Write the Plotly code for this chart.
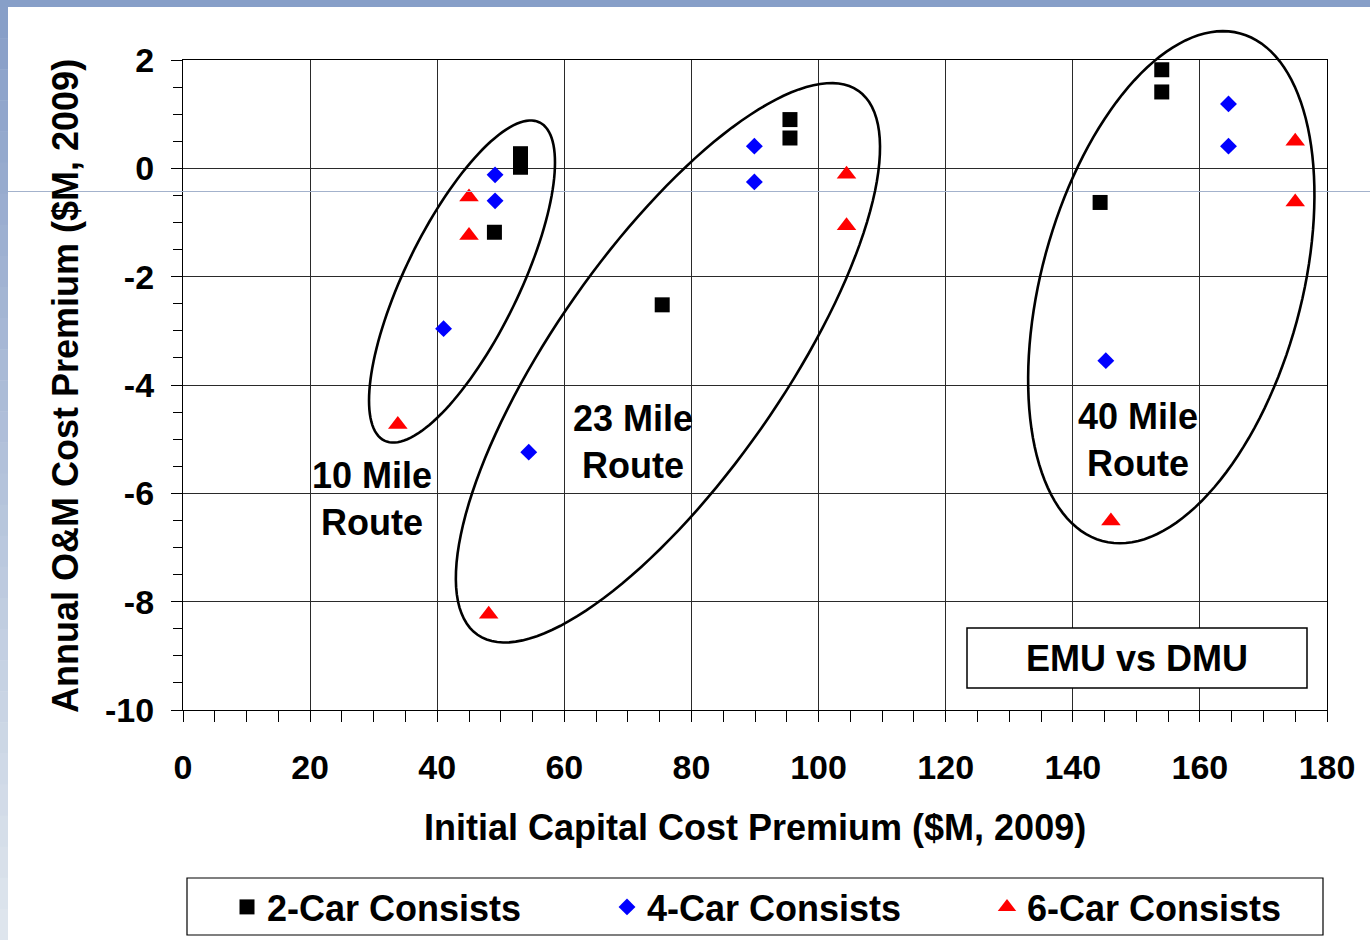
import math
import plotly.graph_objects as go

# ---------------- data ----------------
car2_x = [49.0, 53.1, 53.1, 75.4, 95.5, 95.5, 144.3, 154.0, 154.0]
car2_y = [-1.18, 0.27, 0.02, -2.52, 0.90, 0.56, -0.63, 1.82, 1.41]

car4_x = [49.1, 49.1, 41.0, 54.4, 89.9, 89.9, 145.2, 164.5, 164.5]
car4_y = [-0.12, -0.60, -2.96, -5.24, 0.41, -0.25, -3.55, 1.19, 0.41]

car6_x = [45.0, 45.0, 33.8, 48.1, 104.4, 104.4, 146.0, 175.0, 175.0]
car6_y = [-0.53, -1.24, -4.73, -8.23, -0.11, -1.06, -6.51, 0.50, -0.62]

series_names = ["2-Car Consists", "4-Car Consists", "6-Car Consists"]

route_labels = ["10 Mile<br>Route", "23 Mile<br>Route", "40 Mile<br>Route"]
route_label_x = [29.8, 70.8, 150.3]
route_label_y = [-6.11, -5.05, -5.02]

x_ticks = [0, 20, 40, 60, 80, 100, 120, 140, 160, 180]
y_ticks = [2, 0, -2, -4, -6, -8, -10]

# ---------------- layout geometry ----------------
FIG_W, FIG_H = 1370, 940
L, R, T, B = 183, 43, 60, 230
PW, PH = FIG_W - L - R, FIG_H - T - B
XMIN, XMAX = 0, 180
YMIN, YMAX = -10, 2

FONT = "Liberation Sans, Arial, sans-serif"
TXT = 36


def px_to_paper_x(px):
    return (px - L) / PW


def px_to_paper_y(py):
    return (T + PH - py) / PH


def data_to_px(x, y):
    return (L + (x - XMIN) / (XMAX - XMIN) * PW,
            T + PH - (y - YMIN) / (YMAX - YMIN) * PH)


# ellipse outlines (center in data units, semi-axes in px, tilt in degrees)
ellipses = [
    dict(cx=43.9, cy=-2.09, a=177, b=57, ang=64),
    dict(cx=76.3, cy=-3.59, a=332, b=114, ang=55),
    dict(cx=155.5, cy=-2.195, a=263, b=130, ang=74.8),
]


def ellipse_path(e, n=140):
    cxp, cyp = data_to_px(e["cx"], e["cy"])
    th = math.radians(e["ang"])
    pts = []
    for i in range(n):
        t = 2 * math.pi * i / n
        dx = e["a"] * math.cos(t) * math.cos(th) - e["b"] * math.sin(t) * math.sin(th)
        dy = e["a"] * math.cos(t) * math.sin(th) + e["b"] * math.sin(t) * math.cos(th)
        pts.append((px_to_paper_x(cxp + dx), px_to_paper_y(cyp - dy)))
    return "M " + " L ".join(f"{x:.5f},{y:.5f}" for x, y in pts) + " Z"


fig = go.Figure()

fig.add_trace(go.Scatter(x=car2_x, y=car2_y, mode="markers", name=series_names[0],
                         marker=dict(symbol="square", size=15, color="#000000")))
fig.add_trace(go.Scatter(x=car4_x, y=car4_y, mode="markers", name=series_names[1],
                         marker=dict(symbol="diamond", size=13, color="#0000FF")))
fig.add_trace(go.Scatter(x=car6_x, y=car6_y, mode="markers", name=series_names[2],
                         marker=dict(symbol="triangle-up", size=17, color="#FF0000")))

shapes = []
# slide decorations
shapes.append(dict(type="rect", xref="paper", yref="paper",
                   x0=px_to_paper_x(0), x1=px_to_paper_x(FIG_W),
                   y0=px_to_paper_y(7), y1=px_to_paper_y(0),
                   fillcolor="#879FC8", line=dict(width=0), layer="below"))
nb = 30
c0 = (136, 159, 200)
c1 = (222, 229, 237)
for i in range(nb):
    f = i / (nb - 1)
    col = "rgb(%d,%d,%d)" % tuple(round(c0[k] + (c1[k] - c0[k]) * f) for k in range(3))
    y_top = 7 + (FIG_H - 7) * i / nb
    y_bot = 7 + (FIG_H - 7) * (i + 1) / nb
    shapes.append(dict(type="rect", xref="paper", yref="paper",
                       x0=px_to_paper_x(0), x1=px_to_paper_x(8),
                       y0=px_to_paper_y(y_bot + 0.5), y1=px_to_paper_y(y_top),
                       fillcolor=col, line=dict(width=0), layer="below"))
shapes.append(dict(type="line", xref="paper", yref="paper",
                   x0=px_to_paper_x(8), x1=px_to_paper_x(FIG_W),
                   y0=px_to_paper_y(191.5), y1=px_to_paper_y(191.5),
                   line=dict(color="#A3B2CC", width=1), layer="above"))

for e in ellipses:
    shapes.append(dict(type="path", xref="paper", yref="paper", path=ellipse_path(e),
                       line=dict(color="black", width=2.6), fillcolor="rgba(0,0,0,0)"))

# EMU vs DMU box
shapes.append(dict(type="rect", xref="paper", yref="paper",
                   x0=px_to_paper_x(967), x1=px_to_paper_x(1307),
                   y0=px_to_paper_y(688), y1=px_to_paper_y(628),
                   fillcolor="white", line=dict(color="black", width=1.5)))
# legend box
shapes.append(dict(type="rect", xref="paper", yref="paper",
                   x0=px_to_paper_x(187), x1=px_to_paper_x(1323),
                   y0=px_to_paper_y(935), y1=px_to_paper_y(878),
                   fillcolor="white", line=dict(color="black", width=1.2), layer="below"))

annotations = []
for txt, ax, ay in zip(route_labels, route_label_x, route_label_y):
    annotations.append(dict(x=ax, y=ay, xref="x", yref="y", text=txt, showarrow=False,
                            font=dict(family=FONT, size=TXT, color="black", weight="bold"),
                            xanchor="center", yanchor="middle"))
annotations.append(dict(x=px_to_paper_x(1137), y=px_to_paper_y(658), xref="paper", yref="paper",
                        text="EMU vs DMU", showarrow=False,
                        font=dict(family=FONT, size=TXT, color="black", weight="bold"),
                        xanchor="center", yanchor="middle"))
annotations.append(dict(x=px_to_paper_x(755), y=px_to_paper_y(828), xref="paper", yref="paper",
                        text="Initial Capital Cost Premium ($M, 2009)", showarrow=False,
                        font=dict(family=FONT, size=TXT, color="black", weight="bold"),
                        xanchor="center", yanchor="middle"))
annotations.append(dict(x=px_to_paper_x(66), y=px_to_paper_y(386), xref="paper", yref="paper",
                        text="Annual O&M Cost Premium ($M, 2009)", showarrow=False, textangle=-90,
                        font=dict(family=FONT, size=TXT, color="black", weight="bold"),
                        xanchor="center", yanchor="middle"))

tickfont = dict(family=FONT, size=34, color="black", weight="bold")

fig.update_layout(
    width=FIG_W, height=FIG_H,
    margin=dict(l=L, r=R, t=T, b=B, autoexpand=False),
    paper_bgcolor="white", plot_bgcolor="white",
    shapes=shapes, annotations=annotations,
    showlegend=True,
    legend=dict(orientation="h", x=px_to_paper_x(227), xanchor="left",
                y=px_to_paper_y(907), yanchor="middle",
                font=dict(family=FONT, size=TXT, color="black", weight="bold"),
                bgcolor="rgba(0,0,0,0)", borderwidth=0,
                entrywidth=335, entrywidthmode="pixels", itemclick=False),
    xaxis=dict(range=[XMIN, XMAX], tickvals=x_ticks, ticktext=[str(v) for v in x_ticks],
               showgrid=True, gridcolor="#2a2a2a", gridwidth=1,
               showline=True, linecolor="black", linewidth=1.3, mirror=True,
               ticks="outside", ticklen=11, tickcolor="black", tickwidth=1,
               minor=dict(dtick=5, ticks="outside", ticklen=11, tickcolor="black", showgrid=False),
               tickfont=tickfont, ticklabelstandoff=16, zeroline=False, fixedrange=True),
    yaxis=dict(range=[YMIN, YMAX], tickvals=y_ticks, ticktext=[str(v) for v in y_ticks],
               showgrid=True, gridcolor="#2a2a2a", gridwidth=1,
               showline=True, linecolor="black", linewidth=1.3, mirror=True,
               ticks="outside", ticklen=11, tickcolor="black", tickwidth=1,
               minor=dict(dtick=0.5, ticks="outside", ticklen=9, tickcolor="black", showgrid=False),
               tickfont=tickfont, ticklabelstandoff=10, zeroline=False, fixedrange=True),
)

fig.write_html("out.html", config={"displayModeBar": False},
               post_script="document.body.style.margin='0';")
